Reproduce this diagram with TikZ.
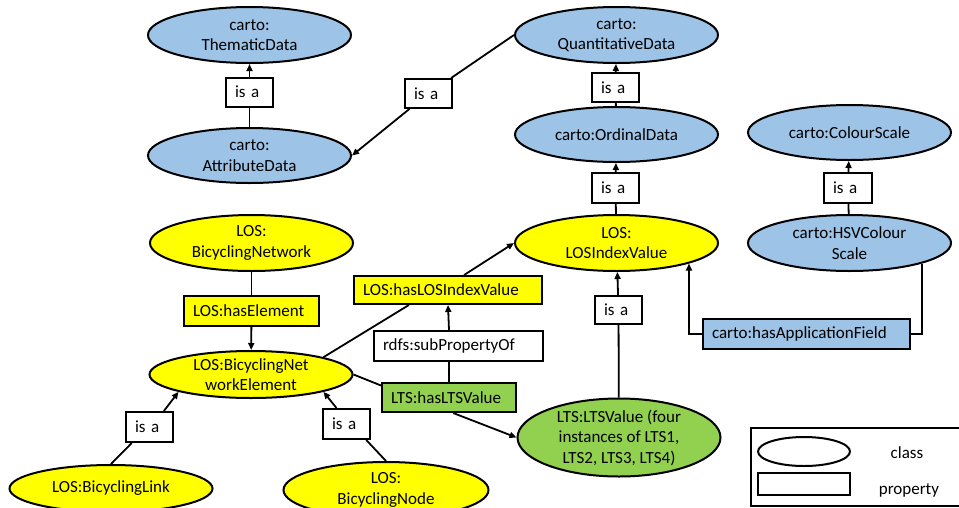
\documentclass[tikz,border=0pt]{standalone}
\usepackage{fontspec}
\setmainfont{Carlito}
\usepackage{xcolor}
\usepackage{tikz}
\usetikzlibrary{shapes.geometric,arrows.meta}

\definecolor{cartoblue}{HTML}{9DC3E6}
\definecolor{losyellow}{HTML}{FFFF00}
\definecolor{ltsgreen}{HTML}{92D050}

\begin{document}
\begin{tikzpicture}[x=1pt,y=-1pt,
	font=\fontsize{17}{20.5}\selectfont,
	class/.style={ellipse, draw, line width=2pt, minimum width=203pt, minimum height=56pt, inner sep=0pt, align=center},
	prop/.style={rectangle, draw, line width=2pt, minimum height=30pt, inner xsep=9pt, inner ysep=0pt, text width=#1, align=left},
	conn/.style={line width=1.8pt},
	>={Triangle[length=7pt,width=6pt]}]
	\useasboundingbox (0,0) rectangle (959,507);

	% classes
	\node[class, fill=cartoblue] (thematic) at (249.5,35) {carto:\\ThematicData};
	\node[class, fill=cartoblue, minimum height=55pt] (attribute) at (249.5,155.5) {carto:\\AttributeData};
	\node[class, fill=losyellow] (network) at (251.5,243) {LOS:\\BicyclingNetwork};
	\node[class, fill=cartoblue] (quantitative) at (616.5,35) {carto:\\QuantitativeData};
	\node[class, fill=cartoblue, minimum height=55pt] (ordinal) at (616.5,134.5) {carto:OrdinalData};
	\node[class, fill=cartoblue, minimum height=55pt] (colourscale) at (849.5,132.5) {carto:ColourScale};
	\node[class, fill=losyellow] (indexvalue) at (616.5,243) {LOS:\\LOSIndexValue};
	\node[class, fill=cartoblue] (hsv) at (849.5,243) {carto:HSVColour\\Scale};
	\node[class, fill=losyellow, minimum height=47pt, inner ysep=-3pt] (element) at (251,374.5) {LOS:BicyclingNet\\workElement};
	\node[class, fill=losyellow, minimum height=47pt] (link) at (111,488.5) {LOS:BicyclingLink};
	\node[class, fill=losyellow, minimum width=205pt] (bicnode) at (386,490) {LOS:\\BicyclingNode};
	\node[class, fill=ltsgreen, minimum height=78pt, inner ysep=-2pt] (ltsvalue) at (619,437.5) {LTS:LTSValue (four\\instances of LTS1,\\LTS2, LTS3, LTS4)};

	% properties
	\node[prop=29pt, minimum height=29pt] (isa1) at (249.5,92) {is a};
	\node[prop=29pt, minimum height=29pt] (isa2) at (428.5,93.5) {is a};
	\node[prop=29pt, minimum height=29pt] (isa3) at (615.5,87.5) {is a};
	\node[prop=29pt] (isa4) at (615.5,188) {is a};
	\node[prop=30pt] (isa5) at (848,188) {is a};
	\node[prop=117pt, fill=losyellow] (haselement) at (251.5,311) {LOS:hasElement};
	\node[prop=170pt, fill=losyellow, minimum height=28pt] (hasindex) at (448,290) {LOS:hasLOSIndexValue};
	\node[prop=151pt] (subproperty) at (458.5,346) {rdfs:subPropertyOf};
	\node[prop=116pt, fill=ltsgreen, minimum height=29pt] (haslts) at (449,397.5) {LTS:hasLTSValue};
	\node[prop=29pt, minimum height=28pt] (isa6) at (618.5,310) {is a};
	\node[prop=189pt, fill=cartoblue] (applicationfield) at (806.5,334) {carto:hasApplicationField};
	\node[prop=29pt] (isa7) at (149.5,427) {is a};
	\node[prop=29pt] (isa8) at (346.5,424) {is a};

	% legend
	\draw[line width=2pt] (751,428) rectangle (965,506);
	\node[ellipse, draw, line width=2pt, minimum width=92pt, minimum height=29pt, inner sep=0pt] (legclass) at (804,451.5) {};
	\node[rectangle, draw, line width=2pt, minimum width=92pt, minimum height=22pt, inner sep=0pt] (legprop) at (804,484) {};
	\node (classtext) at (907,453) {class};
	\node (proptext) at (909,490) {property};

	% connectors
	\draw[conn] (attribute) -- (isa1);
	\draw[conn,->] (isa1) -- (thematic);
	\draw[conn] (quantitative.west) -- (isa2);
	\draw[conn,->] (isa2) -- (attribute.east);
	\draw[conn] (ordinal) -- (isa3);
	\draw[conn,->] (isa3) -- (quantitative);
	\draw[conn] (indexvalue) -- (isa4);
	\draw[conn,->] (isa4) -- (ordinal);
	\draw[conn] (hsv) -- (isa5);
	\draw[conn,->] (isa5) -- (colourscale);
	\draw[conn] (network) -- (haselement);
	\draw[conn,->] (haselement) -- (element);
	\draw[conn] (element.north east) -- (hasindex.201);
	\draw[conn,->] (hasindex.43) -- (indexvalue.west);
	\draw[conn] (haslts.north) -- (haslts.north |- subproperty.south);
	\draw[conn,->] (haslts.north |- subproperty.north) -- (hasindex.south);
	\draw[conn] (element.east) -- (haslts.170);
	\draw[conn,->] (haslts.-75) -- (ltsvalue.west);
	\draw[conn] (ltsvalue) -- (isa6);
	\draw[conn,->] (isa6) -- (indexvalue);
	\draw[conn] (hsv.south east) |- (applicationfield.east);
	\draw[conn,->] (applicationfield.west) -| (indexvalue.south east);
	\draw[conn] (link.north) -- (isa7.-138);
	\draw[conn,->] (isa7.48) -- (element.south west);
	\draw[conn] (bicnode.north) -- (isa8.-39);
	\draw[conn,->] (isa8.122) -- (element.south east);
\end{tikzpicture}
\end{document}
